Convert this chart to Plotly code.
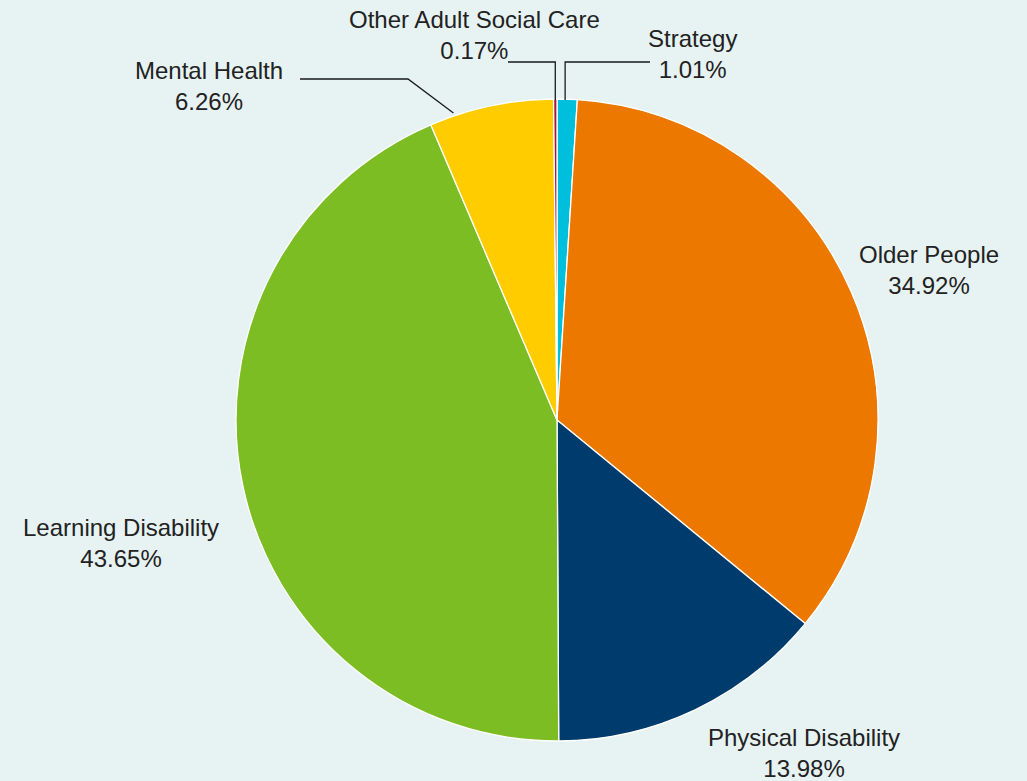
import math
import plotly.graph_objects as go

categories = ["Strategy", "Older People", "Physical Disability", "Learning Disability",
              "Mental Health", "Other Adult Social Care"]
values = [1.01, 34.92, 13.98, 43.65, 6.26, 0.17]
colors = ["#00BFDD", "#EC7800", "#003B6D", "#7CBD24", "#FFCC00", "#A8163B"]

W, H = 1027, 781
BG = "#E7F3F3"
CX, CY, R = 557, 420, 321

# label centers (pixel layout positions)
label_pos = {
    "Strategy": (692, 54),
    "Older People": (929, 270),
    "Physical Disability": (804, 753),
    "Learning Disability": (121, 543),
    "Mental Health": (209, 86),
    "Other Adult Social Care": (474, 35),
}

def px(x):
    return x / W

def py(y):
    return 1 - y / H

total = sum(values)
# angles of slice boundaries, clockwise from top (degrees)
bounds = [0]
for v in values:
    bounds.append(bounds[-1] + v / total * 360)

def edge_point(cat, frac, rr=R + 3):
    i = categories.index(cat)
    a = bounds[i] + (bounds[i + 1] - bounds[i]) * frac
    t = math.radians(a)
    return CX + rr * math.sin(t), CY - rr * math.cos(t)

fig = go.Figure(go.Pie(
    labels=categories, values=values, sort=False, direction="clockwise", rotation=0,
    marker=dict(colors=colors, line=dict(color="white", width=1.3)),
    textinfo="none", hoverinfo="label+percent", showlegend=False,
    domain=dict(x=[px(CX - R), px(CX + R)], y=[py(CY + R), py(CY - R)]),
))

annotations = []
for cat, v in zip(categories, values):
    x, y = label_pos[cat]
    annotations.append(dict(
        x=px(x), y=py(y), xref="paper", yref="paper", showarrow=False,
        text=f"{cat}<br>{v:.2f}%", align="center", xanchor="center", yanchor="middle",
        font=dict(family="Liberation Sans, Arial, sans-serif", size=24, color="#222222"),
    ))

shapes = []
line_style = dict(color="#1a1a1a", width=1.3)
# Mental Health leader
ex, ey = edge_point("Mental Health", 0.2)
pts = [(300, 79), (408, 79), (ex, ey)]
# Other Adult Social Care leader
ox, oy = edge_point("Other Adult Social Care", 0.5, R - 1)
pts_o = [(508, 62), (ox, 62), (ox, oy)]
# Strategy leader
sx, sy = edge_point("Strategy", 0.4, R - 1)
pts_s = [(sx, sy), (sx, 62), (650, 62)]
for p in (pts, pts_o, pts_s):
    path = "M " + " L ".join(f"{px(a)},{py(b)}" for a, b in p)
    shapes.append(dict(type="path", path=path, xref="paper", yref="paper", line=line_style))

fig.update_layout(
    width=W, height=H, margin=dict(l=0, r=0, t=0, b=0),
    paper_bgcolor=BG, plot_bgcolor=BG,
    annotations=annotations, shapes=shapes,
)
fig.write_html("out.html")
